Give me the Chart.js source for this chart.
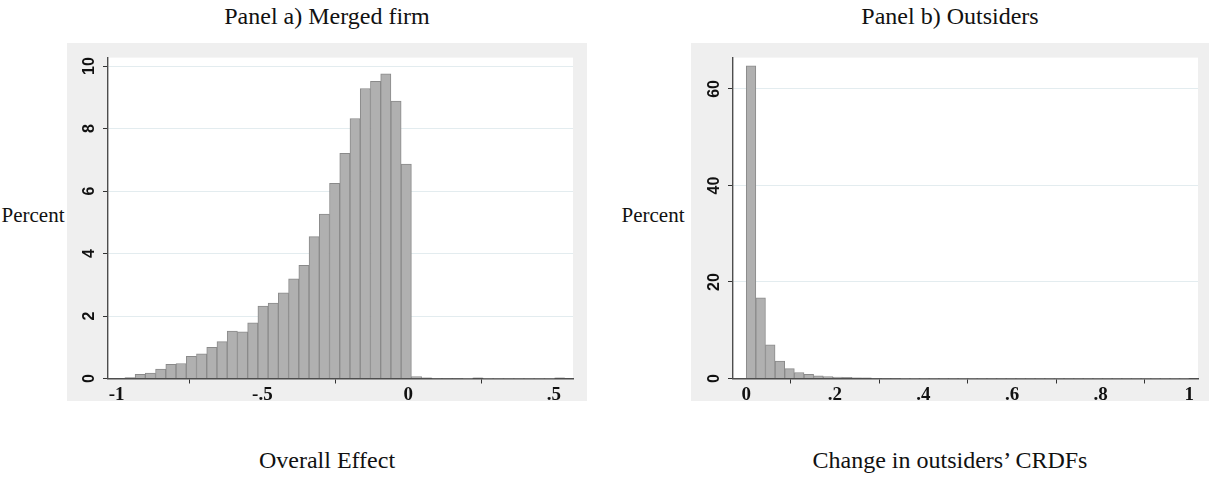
<!DOCTYPE html>
<html><head><meta charset="utf-8">
<script src="https://cdn.jsdelivr.net/npm/chart.js@4.4.1/dist/chart.umd.min.js"></script>
<style>
html,body{margin:0;padding:0;background:#fff;}
#wrap{position:relative;width:1209px;height:479px;overflow:hidden;background:#fff;}
.lbl{position:absolute;font-family:"Liberation Serif",serif;font-size:24px;color:#111;text-align:center;white-space:nowrap;line-height:28px;}
.box{position:absolute;background:#efefef;}
canvas{display:block;}
</style></head><body>
<div id="wrap">
  <div class="lbl" style="left:127px;width:400px;top:2px;">Panel a) Merged firm</div>
  <div class="lbl" style="left:750px;width:400px;top:2px;">Panel b) Outsiders</div>
  <div class="lbl" style="left:-67px;width:200px;top:201px;font-size:21px;">Percent</div>
  <div class="lbl" style="left:553px;width:200px;top:201px;font-size:21px;">Percent</div>
  <div class="lbl" style="left:127px;width:400px;top:446px;">Overall Effect</div>
  <div class="lbl" style="left:750px;width:400px;top:446px;">Change in outsiders’ CRDFs</div>
  <div class="box" style="left:67px;top:43px;width:520px;height:358px;"><canvas id="ca"></canvas></div>
  <div class="box" style="left:691px;top:43px;width:518px;height:358px;"><canvas id="cb"></canvas></div>
</div>
<script>
// Panel a) histogram: bin centers and percent values
const binCentersA = [-0.9541,-0.9190,-0.8839,-0.8488,-0.8137,-0.7786,-0.7435,-0.7084,-0.6733,-0.6382,
  -0.6031,-0.5680,-0.5329,-0.4978,-0.4627,-0.4276,-0.3925,-0.3574,-0.3223,-0.2872,
  -0.2521,-0.2170,-0.1819,-0.1468,-0.1117,-0.0766,-0.0415,-0.0064,0.0287,0.0638,
  0.0989,0.1340,0.1691,0.2042,0.2393,0.2744,0.3095,0.3446,0.3797,0.4148,
  0.4499,0.4850,0.5201];
const percentA = [0.03,0.13,0.17,0.30,0.45,0.48,0.71,0.79,1.00,1.18,
  1.52,1.49,1.78,2.32,2.41,2.74,3.19,3.62,4.54,5.26,
  6.25,7.21,8.32,9.28,9.51,9.75,8.88,6.86,0.06,0.02,
  0.01,0.01,0.01,0.005,0.02,0.005,0.005,0.003,0.003,0.003,
  0.003,0.003,0.02];
const xTicksA = [-1,-0.5,0,0.5];
const xTickLabelsA = ["-1","-.5","0",".5"];
const yTicksA = [0,2,4,6,8,10];
const yTickLabelsA = ["0","2","4","6","8","10"];

// Panel b) histogram
const binCentersB = [0.0109,0.0326,0.0543,0.0761,0.0978,0.1196,0.1413,0.1630,0.1848,0.2065,
  0.2283,0.2500,0.2717,0.2935,0.3152,0.3370,0.3587,0.3804,0.4022,0.4239,
  0.4457,0.4674,0.4891,0.5109,0.5326,0.5543,0.5761,0.5978,0.6196,0.6413,
  0.6630,0.6848,0.7065,0.7283,0.7500,0.7717,0.7935,0.8152,0.8370,0.8587,
  0.8804,0.9022,0.9239,0.9457,0.9674,0.9891];
const percentB = [64.8,16.7,7.0,3.6,2.05,1.25,0.85,0.55,0.42,0.30,
  0.22,0.16,0.12,0.09,0.07,0.05,0.04,0.035,0.03,0.025,
  0.02,0.02,0.015,0.015,0.012,0.01,0.01,0.01,0.008,0.008,
  0.007,0.007,0.006,0.006,0.005,0.005,0.005,0.005,0.004,0.004,
  0.004,0.004,0.003,0.003,0.003,0.003];
const xTicksB = [0,0.2,0.4,0.6,0.8,1];
const xTickLabelsB = ["0",".2",".4",".6",".8","1"];
const yTicksB = [0,20,40,60];
const yTickLabelsB = ["0","20","40","60"];

const plotBg = {
  id: 'plotBg',
  beforeDraw(chart) {
    const {ctx, chartArea: a} = chart;
    ctx.save();
    ctx.fillStyle = '#ffffff';
    ctx.fillRect(a.left, a.top, a.right - a.left, a.bottom - a.top);
    ctx.restore();
  }
};

function makeChart(id, centers, vals, xmin, xmax, xt, xtl, ymax, yt, ytl, pad) {
  new Chart(document.getElementById(id), {
    type: 'bar',
    data: {
      datasets: [{
        data: centers.map((c, i) => ({x: c, y: vals[i]})),
        backgroundColor: '#b0b0b0',
        borderColor: '#8a8a8a',
        borderWidth: 1,
        barPercentage: 1,
        categoryPercentage: 1
      }]
    },
    options: {
      responsive: true,
      maintainAspectRatio: false,
      animation: false,
      layout: {padding: {left: 0, top: pad.top, right: pad.right, bottom: 0}},
      plugins: {legend: {display: false}, tooltip: {enabled: false}},
      scales: {
        x: {
          type: 'linear', min: xmin, max: xmax, offset: false,
          afterBuildTicks: s => { s.ticks = xt.map(v => ({value: v})); },
          afterFit: s => { s.height = pad.bottom; },
          grid: {drawOnChartArea: false, drawTicks: true, tickLength: 5, tickColor: '#333', tickWidth: 1},
          border: {display: true, color: '#4d4d4d', width: 1.4},
          ticks: {
            autoSkip: false, maxRotation: 0, minRotation: 0, padding: 0, color: '#111',
            font: {family: 'Liberation Serif', weight: 'bold', size: 19},
            callback: (v, i) => xtl[i]
          }
        },
        y: {
          type: 'linear', min: 0, max: ymax,
          afterBuildTicks: s => { s.ticks = yt.map(v => ({value: v})); },
          afterFit: s => { s.width = pad.left; },
          grid: {
            color: c => (c.tick && c.tick.value === 0) ? 'rgba(0,0,0,0)' : '#e3ecef',
            lineWidth: 1, drawTicks: true, tickLength: 5, tickColor: '#333', tickWidth: 1
          },
          border: {display: true, color: '#4d4d4d', width: 1.4},
          ticks: {
            autoSkip: false, minRotation: 90, maxRotation: 90, crossAlign: 'center', padding: 5,
            color: '#111', font: {family: 'Liberation Sans', weight: 'bold', size: 16},
            callback: (v, i) => ytl[i]
          }
        }
      }
    },
    plugins: [plotBg]
  });
}

makeChart('ca', binCentersA, percentA, -1.0295, 0.5655, xTicksA, xTickLabelsA, 10.27, yTicksA, yTickLabelsA,
  {left: 41, top: 12, right: 14, bottom: 22.5});
makeChart('cb', binCentersB, percentB, -0.0298, 1.0198, xTicksB, xTickLabelsB, 66.5, yTicksB, yTickLabelsB,
  {left: 42, top: 13, right: 11, bottom: 22.5});
</script>
</body></html>
